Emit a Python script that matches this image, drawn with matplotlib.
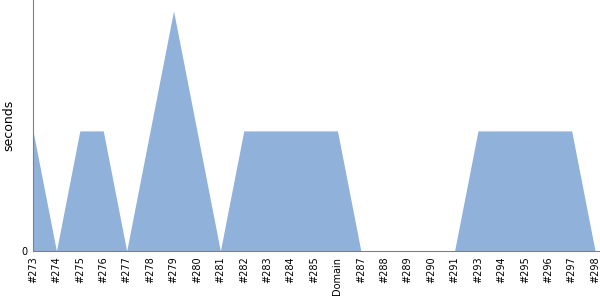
import matplotlib
matplotlib.use("Agg")
import matplotlib.pyplot as plt

labels = ["#273", "#274", "#275", "#276", "#277", "#278", "#279", "#280", "#281",
          "#282", "#283", "#284", "#285", "Domain", "#287", "#288", "#289", "#290",
          "#291", "#293", "#294", "#295", "#296", "#297", "#298"]
seconds = [1, 0, 1, 1, 0, 1, 2, 1, 0, 1, 1, 1, 1, 1, 0, 0, 0, 0, 0, 1, 1, 1, 1, 1, 0]

fig = plt.figure(figsize=(6, 3), dpi=100)
ax = fig.add_axes([33/600, 49/300, 1 - 33/600, 1 - 49/300])
x = list(range(len(labels)))
ax.fill_between(x, 0, seconds, color="#8FB1DA", linewidth=0)
ax.set_xlim(0, len(labels) - 1 + 0.21)
ax.set_ylim(0, 2.09)
ax.set_xticks(x)
ax.set_xticklabels(labels, rotation=90, fontsize=7)
ax.set_yticks([0])
ax.set_yticklabels(["0"], fontsize=7)
ax.tick_params(length=0, pad=4)
ax.set_ylabel("seconds", fontsize=9)
for s in ["top", "right"]:
    ax.spines[s].set_visible(False)
for s in ["left", "bottom"]:
    ax.spines[s].set_color("#808080")
fig.savefig("out.png", dpi=100)
